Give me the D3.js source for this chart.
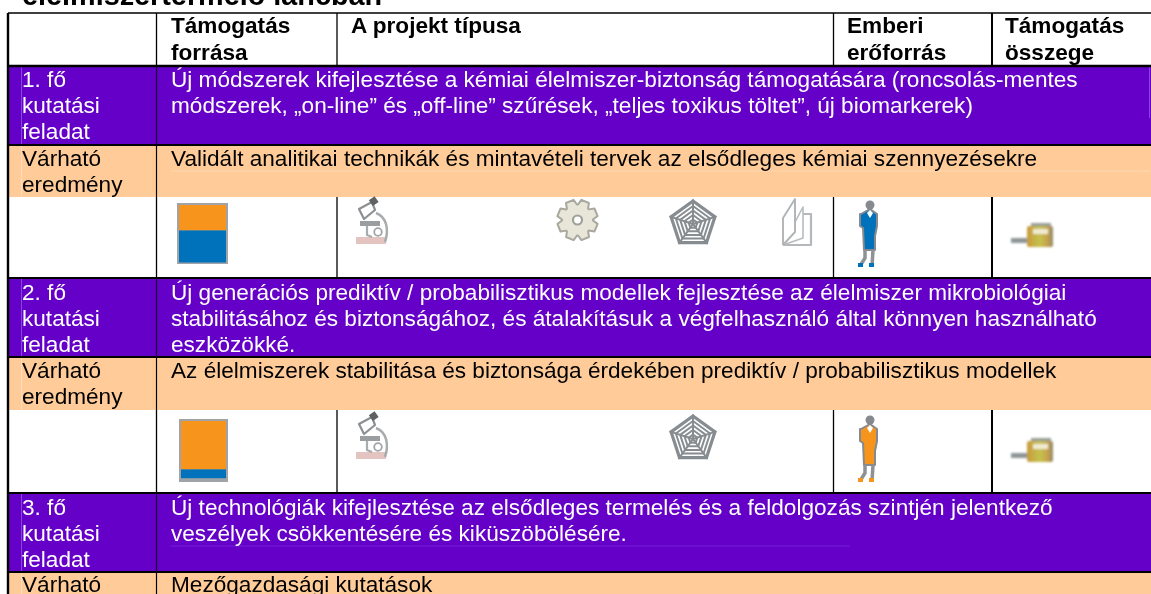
<!DOCTYPE html>
<html><head><meta charset="utf-8">
<script src="https://cdn.jsdelivr.net/npm/d3@7/dist/d3.min.js"></script>
<style>html,body{margin:0;padding:0;background:#fff;overflow:hidden}svg{display:block}text{font-family:"Liberation Sans",Arial,sans-serif}</style>
</head><body><svg id="c" width="1151" height="594"></svg>
<script>
const title = "élelmiszertermelő láncban";
const headers = [["Támogatás","forrása"],["A projekt típusa"],["Emberi","erőforrás"],["Támogatás","összege"]];
const taskLabels = [["1. fő","kutatási","feladat"],["2. fő","kutatási","feladat"],["3. fő","kutatási","feladat"]];
const taskTexts = [
 ["Új módszerek kifejlesztése a kémiai élelmiszer-biztonság támogatására (roncsolás-mentes","módszerek, „on-line” és „off-line” szűrések, „teljes toxikus töltet”, új biomarkerek)"],
 ["Új generációs prediktív / probabilisztikus modellek fejlesztése az élelmiszer mikrobiológiai","stabilitásához és biztonságához, és átalakításuk a végfelhasználó által könnyen használható","eszközökké."],
 ["Új technológiák kifejlesztése az elsődleges termelés és a feldolgozás szintjén jelentkező","veszélyek csökkentésére és kiküszöbölésére."]];
const resultLabel = ["Várható","eredmény"];
const resultTexts = ["Validált analitikai technikák és mintavételi tervek az elsődleges kémiai szennyezésekre","Az élelmiszerek stabilitása és biztonsága érdekében prediktív / probabilisztikus modellek","Mezőgazdasági kutatások"];
const orangeShare = [0.45, 0.80];
const blueShare = [0.55, 0.14];
const projectIcons = [["micro","gear","web","book"],["micro","web"]];
const personColor = ["#0072bc","#f7941d"];

const PURPLE="#6400c8", ORANGE="#ffcc99", F=22.6, LH=26;
const svg=d3.select("#c");
const defs=svg.append("defs");
defs.append("filter").attr("id","b").append("feGaussianBlur").attr("stdDeviation",0.55);
defs.append("filter").attr("id","b2").append("feGaussianBlur").attr("stdDeviation",1.1);
defs.append("filter").attr("id","t").append("feGaussianBlur").attr("stdDeviation",0.3);
const coinG=defs.append("linearGradient").attr("id","cg");
coinG.selectAll("stop").data([["0","#c99a3c"],["0.5","#c4c24e"],["0.8","#c8a04a"],["1","#8d8a70"]]).join("stop").attr("offset",d=>d[0]).attr("stop-color",d=>d[1]);

const col=d3.scaleOrdinal(["edge","source","project","people","amount","end"],[8,156.5,337,833.5,992,1151]);
const rowTop=d3.scaleOrdinal(["top","head","t0","r0","w0","t1","r1","w1","t2","r2","bottom"],[13,66,66,145,197,278,357,410,493,572,594]);

function stroke(g,d,c,w,f){return g.append("path").attr("d",d).attr("fill",f||"none").attr("stroke",c).attr("stroke-width",w).attr("stroke-linejoin","round");}
const POS={micro:356,gear:556,web:670,book:782};
const ICON={
 micro(g){
  g.append("rect").attr("x",0).attr("y",39).attr("width",30).attr("height",7).attr("fill","#e3c4c0");
  stroke(g,"M20 15 C31 19 33 32 29 44","#a8acae",2.5);
  g.append("rect").attr("x",4).attr("y",23).attr("width",20).attr("height",5).attr("fill","#9a9ea0");
  stroke(g,"M3 11 L16 4 L19 12 L8 21 Z","#8c9092",2.2,"#fff");
  g.append("rect").attr("x",14).attr("y",0).attr("width",7).attr("height",7).attr("fill","#5e6264").attr("transform","rotate(-35 17 3)");
  stroke(g,"M11 28 V37 L16 39","#a8acae",2.2);
  g.append("circle").attr("cx",22).attr("cy",34).attr("r",3.8).attr("fill","#fff").attr("stroke","#a0a4a6").attr("stroke-width",1.8);
 },
 gear(g){
  const cx=21.5,cy=22,n=8,pts=[];
  for(let i=0;i<n;i++){const a=i*2*Math.PI/n+0.39;
   [[-.36,15.5],[-.2,20.5],[.2,20.5],[.36,15.5]].forEach(([d,r])=>pts.push([cx+r*Math.cos(a+d),cy+r*Math.sin(a+d)]));}
  stroke(g,d3.line().curve(d3.curveLinearClosed)(pts),"#a8a89f",2,"#e8e6d8");
  g.append("circle").attr("cx",cx).attr("cy",cy).attr("r",4.5).attr("fill","#fff").attr("stroke","#a0a09a").attr("stroke-width",2.2);
 },
 web(g){
  const cx=23,cy=26,ring=d3.lineRadial().curve(d3.curveLinearClosed);
  const ang=d3.range(5).map(i=>i*2*Math.PI/5);
  [[23,3.2],[18,2],[13.5,2],[9,2],[4.5,2]].forEach(([r,w])=>stroke(g,ring(ang.map(a=>[a,r])),"#868c90",w).attr("transform",`translate(${cx},${cy})`));
  ang.forEach(a=>stroke(g,ring([[a,0],[a,24]]),"#868c90",2).attr("transform",`translate(${cx},${cy})`));
 },
 book(g){
  stroke(g,"M20 16 H29 V47 H1","#b4b8ba",2.2);
  stroke(g,"M1 47 L21 9 V40 L1 47","#b8bcbe",1.6,"#fff");
  stroke(g,"M1 47 V20 L13 1 V34 L1 47","#b0b4b6",1.9,"#fff");
 },
 person(g,c){
  g.append("circle").attr("cx",13).attr("cy",5).attr("r",4.5).attr("fill","#868a8e");
  stroke(g,"M4 14 L13 9 L20 14 L20 26 L18 36 L18 50 H7 L6 28 L3 26 V14 Z","#868a8e",2,c);
  g.append("path").attr("d","M10 13 L13 18 L16 13 L13 10 Z").attr("fill","#fff");
  stroke(g,"M8 50 L8 58 L3 66 M16 50 L15 66","#8e9296",3.5);
  g.append("rect").attr("x",1).attr("y",63).attr("width",5).attr("height",4).attr("fill",c);
  g.append("rect").attr("x",12).attr("y",63).attr("width",5).attr("height",4).attr("fill",c);
 },
 coin(g){
  g.append("rect").attr("x",0).attr("y",15).attr("width",20).attr("height",5).attr("fill","#8f9696");
  g.append("rect").attr("x",16).attr("y",3).attr("width",26).attr("height",21).attr("rx",2).attr("fill","url(#cg)");
  g.append("rect").attr("x",22).attr("y",6).attr("width",15).attr("height",5).attr("fill","#f0ebd0");
  g.append("rect").attr("x",20).attr("y",0).attr("width",20).attr("height",3).attr("fill","#98a098");
 }
};

const bg=svg.append("g"), lines=svg.append("g"), icons=svg.append("g").attr("filter","url(#b)"), soft=svg.append("g").attr("filter","url(#b2)"), txt=svg.append("g").attr("filter","url(#t)");
function band(y0,y1,c){bg.append("rect").attr("x",col("edge")).attr("y",y0).attr("width",1151-col("edge")).attr("height",y1-y0).attr("fill",c);}
function hl(x0,x1,y,w,c){lines.append("line").attr("x1",x0).attr("x2",x1).attr("y1",y).attr("y2",y).attr("stroke",c||"#000").attr("stroke-width",w);}
function vl(x,y0,y1,w,c){lines.append("line").attr("x1",x).attr("x2",x).attr("y1",y0).attr("y2",y1).attr("stroke",c||"#000").attr("stroke-width",w);}
function tx(x,y,s,o){txt.append("text").attr("x",x).attr("y",y).attr("font-size",o&&o.size||F).attr("font-weight",o&&o.bold?"bold":"normal").attr("fill",o&&o.fill||"#000").text(s);}

taskTexts.forEach((lines_,i)=>{
  const y=rowTop("t"+i), r=rowTop("r"+i), off=i==0?21:22;
  band(y,r,PURPLE);
  const rEnd=i<2?rowTop("w"+i):rowTop("bottom");
  band(r,rEnd,ORANGE);
  taskLabels[i].forEach((s,k)=>tx(22,y+off+k*LH,s,{fill:"#fff"}));
  lines_.forEach((s,k)=>tx(171,y+off+k*LH,s,{fill:"#fff"}));
  resultLabel.forEach((s,k)=>tx(22,r+(i==2?20:21)+k*LH,s));
  tx(171,r+(i==2?20:21),resultTexts[i]);
  vl(21.5,y+1,r-1,1,"#8a44dd");
  if(i==0) vl(1149.5,y+1,y+52,1,"#8a44dd");
  if(i==2) hl(171,850,y+53,1,"#7420d8");
  if(i==0) hl(171,1150,r+26,1,"#ffd9b3");
  vl(21.5,r+1,rEnd,1,"#ffdcbc");
  hl(8,1151,r,2);
  vl(col("source"),r,rEnd,1.2);
  vl(col("source"),y,r,1.2,"#10002a");
  if(i<2){
    const w=rowTop("w"+i), b=rowTop("t"+(i+1));
    ["source","project","people"].forEach(k=>vl(col(k),w,b,1.3));
    vl(col("amount"),w,b,2);
    hl(8,1151,b,2);
    const by0=i==0?203:419, by1=i==0?264:482;
    const ys=d3.scaleLinear([0,1],[by0,by1]);
    const bx0=i==0?179:181, bw=i==0?47:45;
    icons.append("rect").attr("x",bx0-2).attr("y",by0).attr("width",bw+4).attr("height",by1-by0).attr("fill","#a0a4a8");
    icons.append("rect").attr("x",bx0).attr("y",ys(0)+2).attr("width",bw).attr("height",ys(orangeShare[i])-ys(0)-2).attr("fill","#f7941d");
    icons.append("rect").attr("x",bx0).attr("y",ys(orangeShare[i])).attr("width",bw).attr("height",ys(orangeShare[i]+blueShare[i])-ys(orangeShare[i])-(i==0?1.5:0)).attr("fill","#0072bc");
    const iy=i==0?198:413;
    projectIcons[i].forEach(n=>ICON[n](icons.append("g").attr("transform",`translate(${POS[n]},${iy})`)));
    ICON.person(icons.append("g").attr("transform",`translate(857,${iy+2})`),personColor[i]);
    ICON.coin(soft.append("g").attr("transform",`translate(1011,${iy+25})`));
  }
});
vl(8,13,594,2.4);
hl(8,1151,13,1.5);
hl(8,1151,66,2.4);
["source","project","people"].forEach(k=>vl(col(k),13,66,1.3));
vl(col("amount"),13,66,2);
const hx=[171,351,847,1005];
headers.forEach((h,i)=>h.forEach((s,k)=>tx(hx[i],33+k*27,s,{bold:true})));
tx(22,5,title,{bold:true,size:28.8});
</script>
</body></html>
